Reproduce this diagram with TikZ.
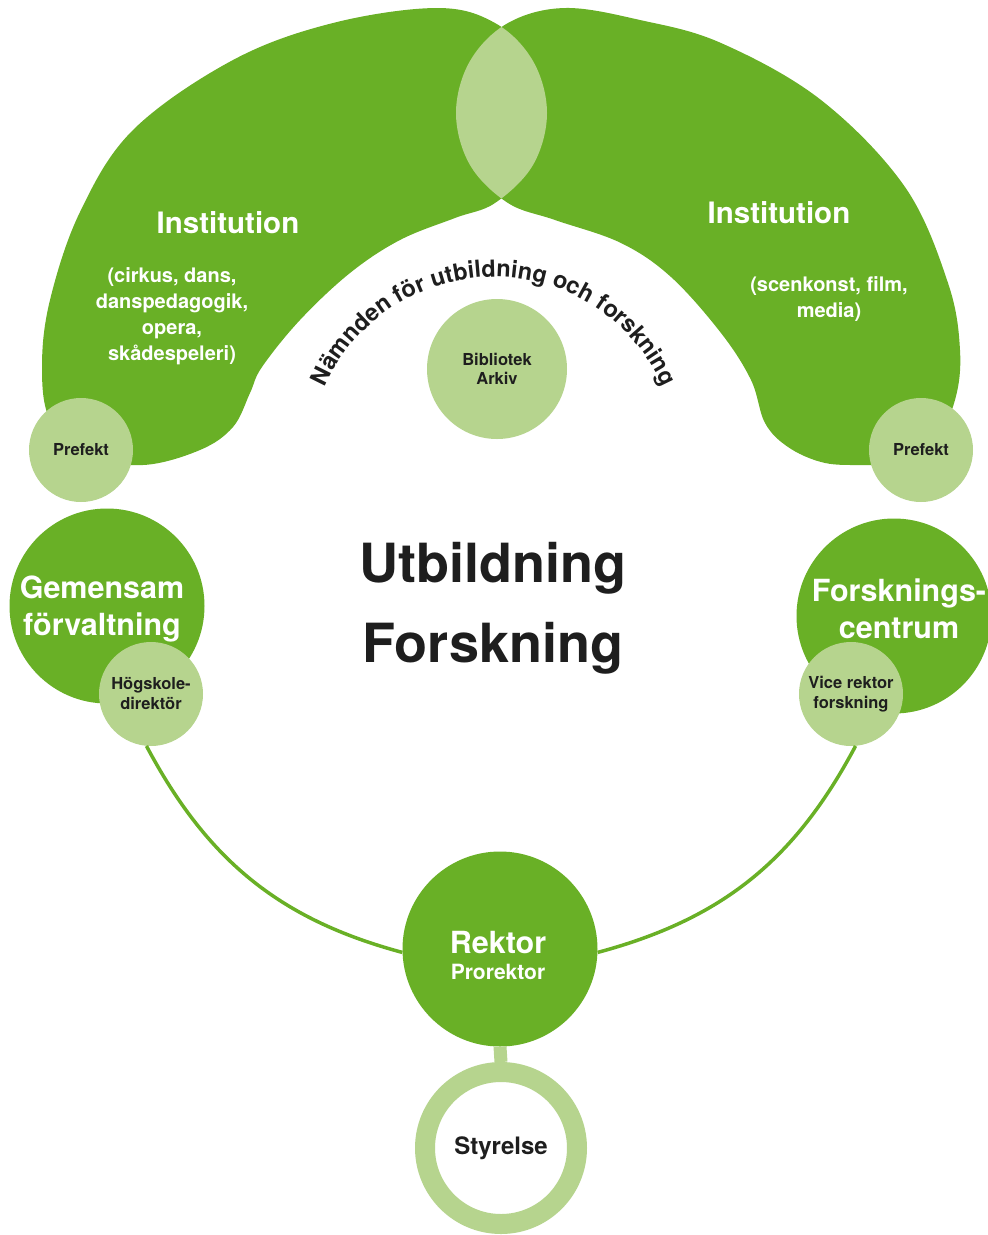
\documentclass[tikz,border=0pt]{standalone}
\usepackage{fontspec}
\setmainfont{TeX Gyre Heros}
\usetikzlibrary{decorations.text}
\definecolor{dkg}{RGB}{105,176,38}
\definecolor{ltg}{RGB}{182,212,142}
\definecolor{txt}{RGB}{30,30,30}
\newcommand\fsz[2]{\fontsize{#1}{#2}\selectfont}
\newcommand\LblobPath{plot[smooth cycle, tension=0.6] coordinates {(437,-8) (495,-23) (533,-61) (547,-113) (533,-165) (495,-203) (455,-218) (400,-240) (350,-273) (300,-320) (262,-367) (250,-393) (233,-427) (200,-450) (143,-465) (85,-455) (50,-420) (42,-367) (50,-300) (80,-212) (133,-130) (233,-60) (333,-23)}}
\newcommand\RblobPath{plot[smooth cycle, tension=0.6] coordinates {(565,-8) (640,-20) (721,-43) (821,-100) (905,-187) (948,-283) (960,-350) (955,-400) (935,-440) (900,-462) (855,-465) (821,-462) (788,-447) (765,-423) (751,-380) (721,-333) (671,-277) (621,-243) (555,-220) (508,-203) (470,-165) (456,-113) (470,-61) (508,-23)}}
\tikzset{
  bigc/.style={circle, fill=dkg, inner sep=0pt, minimum size=195pt},
  bigtext/.style={text=white, inner sep=0pt, align=center, font=\bfseries\fsz{30.5}{37}},
  smallc/.style={circle, fill=ltg, text=txt, inner sep=0pt, minimum size=104pt, align=center, font=\bfseries\fsz{16.5}{20}},
  ringc/.style={circle, draw=ltg, line width=20pt, fill=white, text=txt, inner sep=0pt, minimum size=152pt, font=\bfseries\fsz{24}{28}},
  insttitle/.style={text=white, inner sep=0pt, font=\bfseries\fsz{29.5}{35}},
  instsub/.style={text=white, inner sep=0pt, align=center, font=\bfseries\fsz{20}{26}},
  conn/.style={draw=dkg, line width=3.5pt},
  stem/.style={draw=ltg, line width=13pt}
}
\begin{document}
\begin{tikzpicture}[x=1pt,y=1pt]
\useasboundingbox (0,0) rectangle (988,-1235);
% institution blobs
\fill[dkg] \LblobPath;
\fill[dkg] \RblobPath;
\begin{scope}
  \clip \LblobPath;
  \fill[ltg] \RblobPath;
\end{scope}
% institution texts
\node[insttitle, anchor=base] (inst1) at (228,-233) {Institution};
\node[instsub] (inst1s) at (172,-316) {(cirkus, dans,\\danspedagogik,\\opera,\\skådespeleri)};
\node[insttitle, anchor=base] (inst2) at (779,-223) {Institution};
\node[instsub] (inst2s) at (829,-299) {(scenkonst, film,\\media)};
% arc text
\path[decorate, decoration={text along path, text align=center,
  text={|\fsz{23.5}{23.5}\bfseries\color{txt}|Nämnden för utbildning och forskning}}]
  (325,-386.8) arc[start angle=156, end angle=24, radius=185];
% circles
\node[circle, fill=ltg, text=txt, inner sep=0pt, minimum size=140pt, align=center, font=\bfseries\fsz{16.5}{19}] (bib) at (497,-369) {Bibliotek\\Arkiv};
\node[smallc] (pl) at (81,-450) {Prefekt};
\node[smallc] (pr) at (921,-450) {Prefekt};
\node[bigc] (gem) at (107,-606) {};
\node[bigtext] (gemt) at ([shift={(-5,-3)}]gem.center) {Gemensam\\förvaltning};
\node[smallc] (hog) at (151,-694) {Högskole-\\direktör};
\node[bigc] (fc) at (894,-616) {};
\node[bigtext] (fct) at ([shift={(5,7)}]fc.center) {Forsknings-\\centrum};
\node[smallc] (vr) at (851,-694) {Vice rektor\\forskning};
\node[bigc] (rek) at (500,-949) {};
\node[bigtext] (rekt) at (498,-955) {Rektor\\[-11pt]{\fsz{21}{25}Prorektor}};
\node[ringc] (sty) at (501,-1148) {Styrelse};
% main text
\node[text=txt, align=center, inner sep=0pt, font=\bfseries\fsz{54}{80}] (main) at (493,-608) {Utbildning\\Forskning};
% connectors
\draw[conn] (hog.-95) to[out=-62, in=165] (rek.182);
\draw[conn] (vr.-85) to[out=-118, in=15] (rek.-2);
\draw[stem] (rek.south) -- (sty.north);
\end{tikzpicture}
\end{document}
